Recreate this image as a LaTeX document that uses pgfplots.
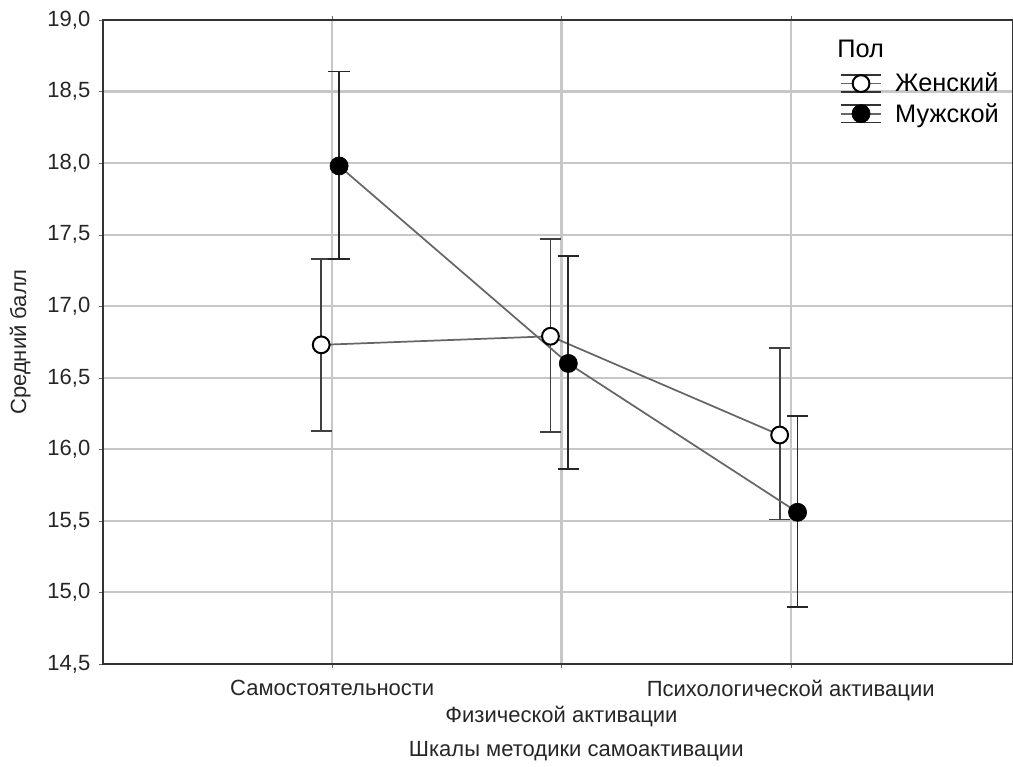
\documentclass[border=0pt]{standalone}
\usepackage{pgfplots}
\usepackage{pgfplotstable}
\pgfplotsset{compat=1.18}
\usepackage{fontspec}
\setmainfont{Liberation Sans}
\usetikzlibrary{calc}
\pgfplotstableread{
x y ep em
-0.048 16.73 0.60 0.60
0.952 16.79 0.68 0.67
1.952 16.10 0.61 0.59
}\women
\pgfplotstableread{
x y ep em
0.03 17.98 0.66 0.65
1.03 16.60 0.75 0.74
2.03 15.56 0.67 0.66
}\men
\begin{document}
\begin{tikzpicture}[font=\fontsize{16.5pt}{19.8pt}\selectfont]
\begin{axis}[
  scale only axis, width=682.5pt, height=483pt,
  xmin=-1, xmax=2.97, ymin=14.5, ymax=19,
  xtick={0,1,2},
  xticklabels={Самостоятельности, {\strut\\[-1.5pt]Физической активации}, Психологической активации},
  xticklabel style={align=center, yshift=-5.5pt, text=black!85},
  ytick={14.5,15,15.5,16,16.5,17,17.5,18,18.5,19},
  yticklabel style={text=black!85, xshift=-3pt, /pgf/number format/fixed, /pgf/number format/fixed zerofill, /pgf/number format/precision=1, /pgf/number format/use comma, /pgf/number format/assume math mode=true},
  grid=major, major grid style={color=black!22, line width=1.6pt},
  axis line style={black!80, line width=1pt},
  tick align=outside, major tick length=3pt, tick style={black!60},
  xlabel={Шкалы методики самоактивации},
  xlabel style={at={(axis description cs:0.52,0)}, anchor=center, yshift=-65pt, text=black!85},
  ylabel={Средний балл},
  ylabel style={at={(axis description cs:0,0.5)}, anchor=center, yshift=62pt, text=black!85},
  legend style={at={(0.992,0.977)}, anchor=north east, draw=none, fill=none, row sep=3pt, font=\fontsize{19pt}{22pt}\selectfont},
  legend cell align=left,
  legend image code/.code={
    \draw[black!80, line width=1.2pt] (0pt,6.5pt) -- (30pt,6.5pt);
    \draw[black!80, line width=1.2pt] (0pt,-6.5pt) -- (30pt,-6.5pt);
    \draw[mark repeat=2, mark phase=2, #1] plot coordinates {(0pt,0pt) (15pt,0pt) (30pt,0pt)};
    \path (38pt,0pt);
  },
]
\addlegendimage{empty legend}
\addlegendentry{\hspace{-49pt}\raisebox{3pt}{Пол}}
\addplot[color=black!60, line width=1.3pt, mark=*, mark size=6.3pt,
  mark options={fill=white, draw=black, line width=1.5pt},
  error bars/.cd, y dir=both, y explicit,
  error bar style={color=black!75, line width=1.4pt},
  error mark options={rotate=90, mark size=8pt, line width=1.4pt, color=black!75}]
  table[x=x, y=y, y error plus=ep, y error minus=em]{\women};
\addlegendentry{Женский}
\addplot[color=black!60, line width=1.3pt, mark=*, mark size=6.8pt,
  mark options={fill=black, draw=black, line width=0.5pt},
  error bars/.cd, y dir=both, y explicit,
  error bar style={color=black!85, line width=1.4pt},
  error mark options={rotate=90, mark size=8pt, line width=1.4pt, color=black!85}]
  table[x=x, y=y, y error plus=ep, y error minus=em]{\men};
\addlegendentry{Мужской}
\end{axis}
\pgfresetboundingbox
\path ($(current axis.south west)+(-77.25pt,-77.25pt)$) rectangle ($(current axis.north east)+(0pt,15pt)$);
\end{tikzpicture}
\end{document}
